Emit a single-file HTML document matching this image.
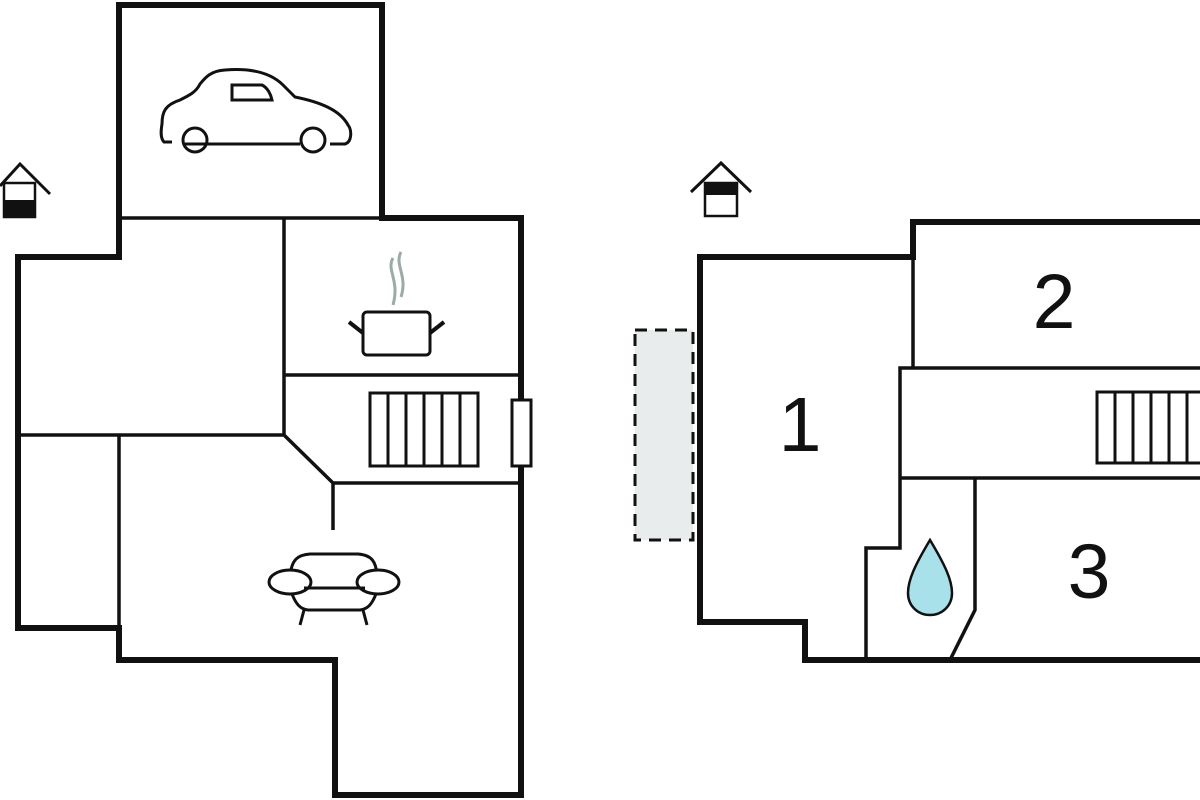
<!DOCTYPE html>
<html><head><style>html,body{margin:0;padding:0;background:#fff;width:1200px;height:800px;overflow:hidden}</style></head>
<body>
<svg width="1200" height="800" viewBox="0 0 1200 800" xmlns="http://www.w3.org/2000/svg">
<rect width="1200" height="800" fill="#fff"/>
<g fill="none" stroke="#111" stroke-linejoin="miter">
<path d="M119,218 V5 H382 V218 H521 V795 H335 V660 H119 V628 H18 V257 H119 Z" stroke-width="6"/>
<g stroke-width="3.5">
<path d="M119,218 H382"/>
<path d="M284,218 V435"/>
<path d="M18,435 H284 L333,483 H521"/>
<path d="M119,435 V628"/>
<path d="M284,375 H521"/>
<path d="M333,483 V530"/>
</g>
<rect x="512" y="400" width="19" height="66" fill="#fff" stroke-width="3"/>
<g stroke-width="3"><rect x="370" y="393" width="108" height="73"/>
<path d="M388,393V466M406,393V466M424,393V466M442,393V466M460,393V466"/></g>
<rect x="363" y="312" width="67" height="43" rx="4" stroke-width="3"/>
<path d="M349,322 L363,333 M444,322 L430,333" stroke-width="4"/>
<path d="M393,258 C386,270 400,280 393,305 M401,252 C394,265 408,275 401,297" stroke="#9aaba8" stroke-width="3"/>
<g stroke-width="3">
<path d="M185,144 H300 M330,144 H345 C352,142 352,130 348,125 C340,110 320,102 295,97 L283,85 C270,72 250,68 225,70 C210,71 205,78 200,84 C196,92 190,95 180,100 C165,105 162,112 162,124 C161,130 160,138 164,142 H172"/>
<path d="M232,85 H262 C268,88 271,95 272,100 H232 Z"/>
<circle cx="195" cy="140" r="12"/><circle cx="313" cy="140" r="12"/>
</g>
<g stroke-width="3">
<path d="M290,575 C292,560 297,555 310,554 H358 C372,555 376,562 377,575"/>
<ellipse cx="290" cy="582" rx="21" ry="12" fill="#fff"/>
<ellipse cx="378" cy="582" rx="21" ry="12" fill="#fff"/>
<path d="M304,588 H365 M292,594 C296,604 300,609 308,610 H360 C368,609 372,604 376,594"/>
<path d="M304,610 L300,625 M363,610 L367,625"/>
</g>
<path d="M0,186 L20,164 L50,194" stroke-width="3"/>
<rect x="4" y="183" width="31" height="34" stroke-width="2.5"/>
</g>
<rect x="4" y="200" width="31" height="17" fill="#111"/>
<rect x="635" y="330" width="58" height="210" fill="#e8ecec" stroke="#111" stroke-width="3" stroke-dasharray="12,8"/>
<g fill="none" stroke="#111">
<path d="M1203,222 H913 V257 H700 V622 H805 V660 H1203" stroke-width="6"/>
<g stroke-width="3.5">
<path d="M913,257 V368"/>
<path d="M1203,368 H900 V548 H866 V660"/>
<path d="M900,478 H1203"/>
<path d="M975,478 V610 L950,660"/>
</g>
<g stroke-width="3"><rect x="1097" y="392" width="110" height="71"/>
<path d="M1115,392V463M1133,392V463M1151,392V463M1169,392V463M1187,392V463"/></g>
<path d="M930,540 C915,565 908,580 908,593 C908,606 918,615 930,615 C942,615 952,606 952,593 C952,580 945,565 930,540 Z" fill="#a9e1ea" stroke-width="2.5"/>
<path d="M691,192 L721,163 L751,192" stroke-width="3"/>
<rect x="705" y="183" width="32" height="33" stroke-width="2.5" fill="#fff"/>
</g>
<rect x="705" y="183" width="32" height="12" fill="#111"/>
<g font-family="Liberation Sans, sans-serif" font-size="77" fill="#111" text-anchor="middle">
<text x="800" y="451">1</text>
<text x="1054" y="328">2</text>
<text x="1089" y="598">3</text>
</g>
</svg>
</body></html>
